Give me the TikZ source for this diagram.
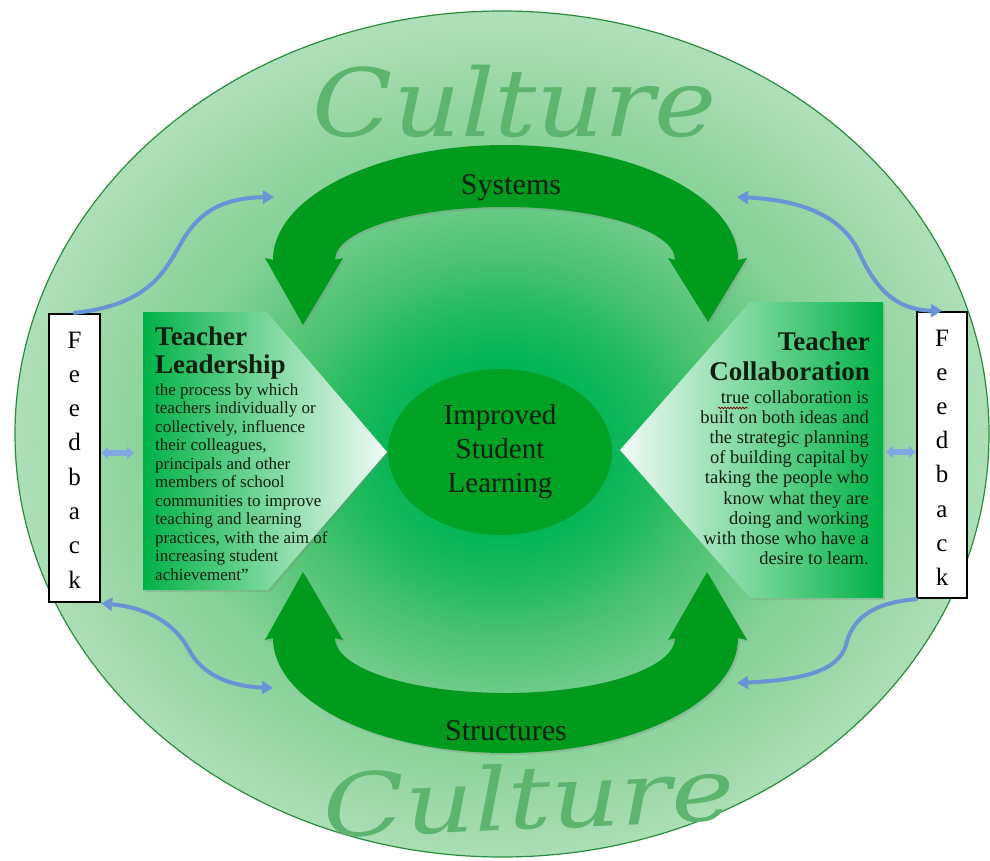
\documentclass[tikz,border=0pt]{standalone}
\usepackage{fontspec}
\setmainfont{Liberation Serif}
\newfontfamily\culturefont{DejaVu Serif}
\usepackage{graphicx}
\usetikzlibrary{arrows.meta,shapes.geometric,shadows,decorations.pathmorphing}
\definecolor{bigarrow}{RGB}{0,155,28}
\definecolor{islfill}{RGB}{0,162,36}
\definecolor{cult}{RGB}{92,180,110}
\definecolor{fbblue}{RGB}{105,148,212}
\definecolor{fbblue2}{RGB}{128,168,225}
\definecolor{boxgreen}{RGB}{0,178,70}
\definecolor{rim}{RGB}{40,140,60}
\definecolor{txt}{RGB}{15,30,15}
\pgfdeclareradialshading{bgshade}{\pgfpoint{0bp}{-1bp}}{%
rgb(0bp)=(0,0.70,0.32);
rgb(5bp)=(0.01,0.71,0.33);
rgb(8bp)=(0.12,0.73,0.37);
rgb(12bp)=(0.33,0.77,0.46);
rgb(17bp)=(0.52,0.82,0.59);
rgb(22bp)=(0.62,0.85,0.67);
rgb(25bp)=(0.68,0.875,0.72);
rgb(50bp)=(0.68,0.875,0.72)}
\begin{document}
\begin{tikzpicture}[x=1pt,y=-1pt,
  fbbox/.style={draw=black, line width=2.4pt, fill=white, minimum width=51pt, minimum height=288pt, inner sep=0},
  fbletter/.style={font=\fontsize{25}{25}\selectfont, text=black, inner sep=0, anchor=base},
  fbarrow/.style={draw=fbblue, line width=4pt, line cap=round},
  endhead/.style={-{Triangle[length=11pt,width=13pt]}},
  bothheads/.style={{Triangle[length=11pt,width=13pt]}-{Triangle[length=11pt,width=13pt]}},
  smallarrow/.style={draw=fbblue2, line width=5.5pt, {Triangle[length=7pt,width=12pt]}-{Triangle[length=7pt,width=12pt]}},
  bigshadow/.style={drop shadow={opacity=0.25, shadow xshift=2pt, shadow yshift=-2pt}},
  labeltext/.style={font=\fontsize{30}{30}\selectfont, text=txt, inner sep=0, anchor=base},
]
\useasboundingbox (0,0) rectangle (990,861);

% background ellipse
\shadedraw[shading=bgshade, draw=rim, line width=1.2pt] (502,434) ellipse[x radius=487pt, y radius=423pt];

% Culture texts
\node[anchor=base, text=cult, inner sep=0] (cultT) at (515,137)
  {\resizebox{404pt}{\height}{\culturefont\itshape\fontsize{94}{94}\selectfont Culture}};
\node[anchor=base, text=cult, inner sep=0, rotate=2.5] (cultB) at (530,829)
  {\resizebox{412pt}{\height}{\culturefont\itshape\fontsize{87}{87}\selectfont Culture}};

% Systems arrow
\fill[bigarrow, bigshadow] (273,260) arc[start angle=180, end angle=0, x radius=232.5pt, y radius=115pt]
  -- (747,258) -- (708,322) -- (668,258) -- (675,260)
  arc[start angle=0, end angle=180, x radius=170pt, y radius=53pt]
  -- (343,258) -- (303,325) -- (265,258) -- cycle;
% Structures arrow
\fill[bigarrow, bigshadow] (273,638) arc[start angle=180, end angle=360, x radius=232.5pt, y radius=115pt]
  -- (747,640) -- (707,572) -- (668,640) -- (675,638)
  arc[start angle=360, end angle=180, x radius=170pt, y radius=55pt]
  -- (343,640) -- (303,572) -- (265,640) -- cycle;

\node[labeltext] (sys) at (511,195) {Systems};
\node[labeltext] (str) at (506,740) {Structures};

% Teacher Leadership box
\shade[left color=boxgreen, right color=white!95!boxgreen, bigshadow]
  (143,312) -- (267,312) -- (387,452) -- (268,590) -- (143,590) -- cycle;
\coordinate (TLa) at (134,453);
% Teacher Collaboration box
\shade[left color=white!95!boxgreen, right color=boxgreen, bigshadow]
  (883,302) -- (750,302) -- (620,450) -- (750,598) -- (883,598) -- cycle;
\coordinate (TCa) at (886,452);

% box texts
\node[anchor=base west, inner sep=0, text=txt] (tlT) at (155,345)
  {\parbox[t]{220pt}{\fontsize{27}{28}\selectfont\bfseries\raggedright Teacher\\Leadership}};
\node[anchor=base west, inner sep=0, text=txt] (tlB) at (155,395)
  {\parbox[t]{250pt}{\fontsize{17}{18.5}\selectfont\raggedright
  the process by which\\
  teachers individually or\\
  collectively, influence\\
  their colleagues,\\
  principals and other\\
  members of school\\
  communities to improve\\
  teaching and learning\\
  practices, with the aim of\\
  increasing student\\
  achievement''}};
\node[anchor=base east, inner sep=0, text=txt] (tcT) at (870,350)
  {\parbox[t]{250pt}{\fontsize{27}{30}\selectfont\bfseries\raggedleft Teacher\\Collaboration}};
\node[anchor=base east, inner sep=0, text=txt] (tcB) at (869,403)
  {\parbox[t]{260pt}{\fontsize{18.5}{20.2}\selectfont\raggedleft
  true collaboration is\\
  built on both ideas and\\
  the strategic planning\\
  of building capital by\\
  taking the people who\\
  know what they are\\
  doing and working\\
  with those who have a\\
  desire to learn.}};
\draw[draw=red!45!black, line width=0.7pt, decorate, decoration={snake, amplitude=0.9pt, segment length=3pt}]
  (718,408) -- (748,408);

% central ellipse
\node[ellipse, fill=islfill, minimum width=224pt, minimum height=166pt, inner sep=0,
  align=center, text=txt, font=\fontsize{29}{34}\selectfont] (isl) at (500,452)
  {Improved\\Student\\Learning};

% feedback boxes
\node[fbbox] (fbL) at (74.5,458) {};
\node[fbbox, minimum width=50pt, minimum height=286pt] (fbR) at (942,455) {};
\foreach \ch [count=\i from 0] in {F,e,e,d,b,a,c,k} {
  \node[fbletter] (fbL\i) at (74.5,348+34.3*\i) {\ch};
  \node[fbletter] (fbR\i) at (942,346+34.2*\i) {\ch};
}

% feedback arrows
\coordinate (sysL) at (274,197);
\coordinate (sysR) at (737,197);
\coordinate (strL) at (273,688);
\coordinate (strR) at (737,683);
\draw[fbarrow, endhead] (fbL.north) .. controls (150,305) and (165,270) .. (180,245)
  .. controls (195,218) and (215,198) .. (sysL);
\draw[fbarrow, bothheads] (sysR) .. controls (800,200) and (840,215) .. (858,250)
  .. controls (875,288) and (895,310) .. (fbR.north);
\draw[fbarrow, bothheads] (fbL.south east) .. controls (150,608) and (175,625) .. (188,648)
  .. controls (200,672) and (225,686) .. (strL);
\draw[fbarrow, endhead] (fbR.south west) .. controls (870,603) and (852,620) .. (846,645)
  .. controls (838,672) and (800,680) .. (strR);
\draw[smallarrow] (fbL.east |- TLa) -- (TLa);
\draw[smallarrow] (TCa) -- (fbR.west |- TCa);
\end{tikzpicture}
\end{document}
